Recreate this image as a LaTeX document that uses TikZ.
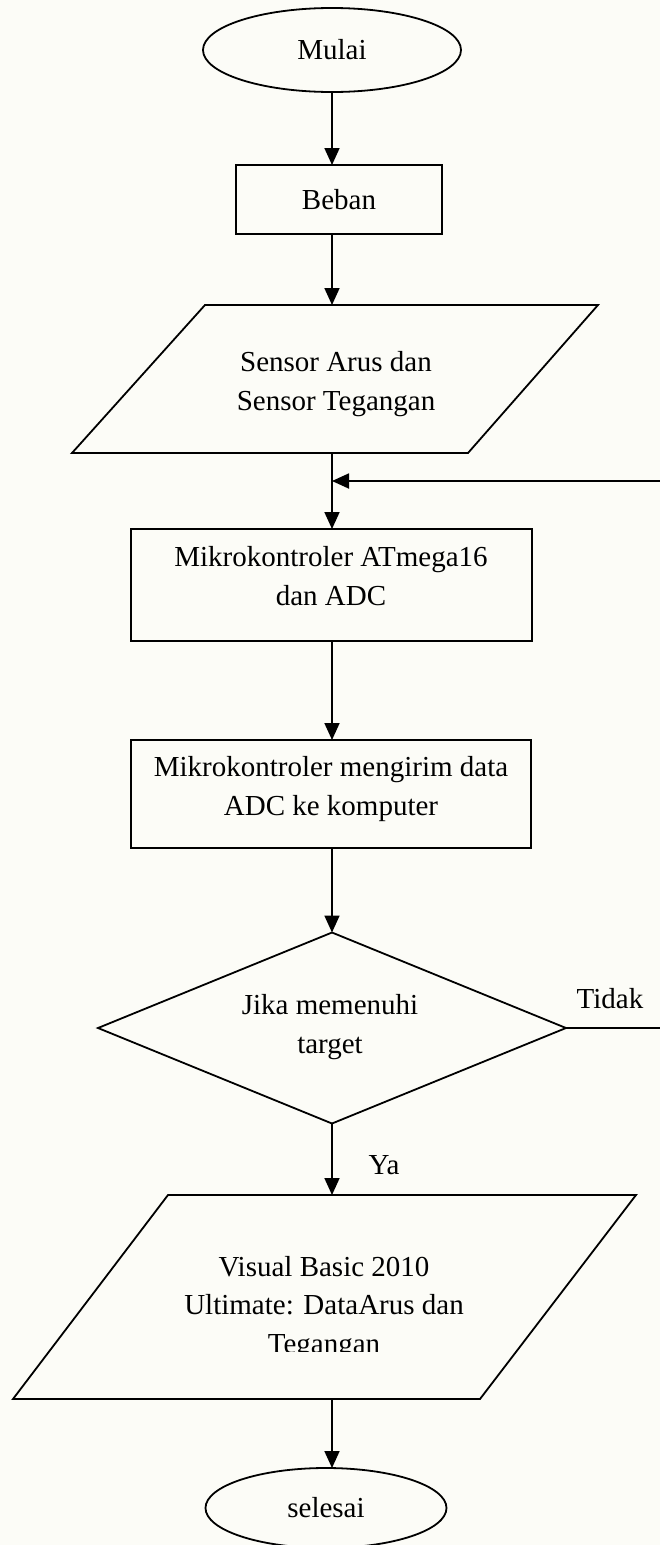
\documentclass[tikz,border=0pt]{standalone}
\usepackage{fontspec}
\setmainfont{Liberation Serif}
\usetikzlibrary{shapes.geometric,arrows.meta}
\definecolor{bgcol}{RGB}{252,252,247}
\begin{document}
\begin{tikzpicture}[x=1pt,y=-1pt,
  line width=1.8pt,
  every node/.style={font=\fontsize{29}{38.5}\selectfont, inner sep=0pt, outer sep=0pt},
  term/.style={draw, ellipse},
  proc/.style={draw, rectangle},
  decision/.style={draw, diamond},
  lbl/.style={align=center, anchor=base},
  arr/.style={-{Triangle[width=15pt,length=17pt]}}]
\fill[bgcol] (0,0) rectangle (660,1545);
\useasboundingbox (0,0) rectangle (660,1545);
\clip (0,0) rectangle (660,1545);

% start
\node[term, minimum width=258pt, minimum height=84pt] (mulai) at (332,50) {Mulai};
% load
\node[proc, minimum width=206pt, minimum height=69pt] (beban) at (339,199.5) {Beban};
% input 1
\draw (205,305) -- (598,305) -- (468,453) -- (72,453) -- cycle;
\coordinate (p1t) at (332,305);
\coordinate (p1b) at (332,453);
\node[lbl] (p1txt) at (336,410) {Sensor Arus dan\\Sensor Tegangan};
% junction
\coordinate (j) at (332,481);
\coordinate (fb) at (666,481);
% process 1
\node[proc, minimum width=401pt, minimum height=112pt] (box1) at (331.5,585) {};
\node[lbl] (b1txt) at (331,605) {Mikrokontroler ATmega16\\dan ADC};
% process 2
\node[proc, minimum width=400pt, minimum height=108pt] (box2) at (331,794) {};
\node[lbl] (b2txt) at (331,815) {Mikrokontroler mengirim data\\ADC ke komputer};
% decision
\node[decision, minimum width=468pt, minimum height=191pt] (dia) at (332,1028) {};
\node[lbl] (dtxt) at (330,1053) {Jika memenuhi\\target};
\node[anchor=base] (tidak) at (610,1008) {Tidak};
\node[anchor=base] (ya) at (384,1174) {Ya};
% output
\draw (168,1195) -- (636,1195) -- (480,1399) -- (13,1399) -- cycle;
\coordinate (p2t) at (332,1195);
\coordinate (p2b) at (332,1399);
\begin{scope}
\clip (0,1190) rectangle (660,1351);
\node[lbl] (p2txt) at (324,1353) {Visual Basic 2010\\Ultimate: DataArus dan\\Tegangan};
\end{scope}
% end
\node[term, minimum width=241pt, minimum height=80pt] (selesai) at (326,1508) {selesai};

% connectors
\draw[arr] (mulai.south) -- (beban.north -| mulai.south);
\draw[arr] (beban.south -| p1t) -- (p1t);
\draw[arr] (p1b) -- (box1.north -| p1b);
\draw[arr] (dia.east) -- (dia.east -| fb) -- (fb) -- (j);
\draw[arr] (box1.south -| j) -- (box2.north -| j);
\draw[arr] (box2.south -| j) -- (dia.north);
\draw[arr] (dia.south) -- (p2t);
\draw[arr] (p2b) -- (selesai.north -| p2b);
\end{tikzpicture}
\end{document}
